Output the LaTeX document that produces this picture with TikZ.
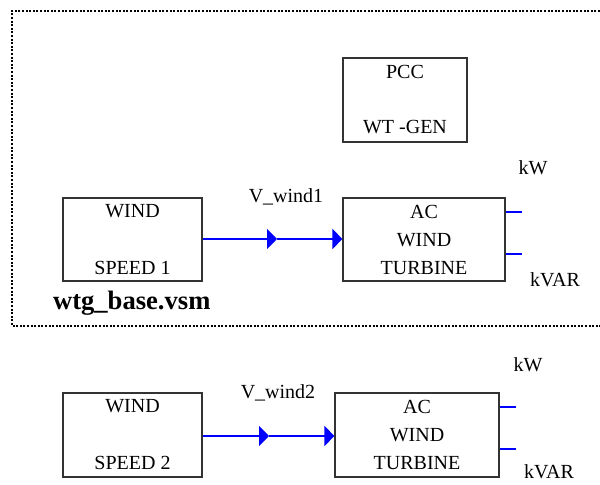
\documentclass[tikz,border=0pt]{standalone}
\usepackage{fontspec}
\setmainfont{Liberation Serif}
\usepackage{tikz}
\usetikzlibrary{positioning, arrows.meta}

\begin{document}
\begin{tikzpicture}[
    x=0.5pt, y=-0.5pt,
    every node/.style={font=\fontsize{10}{14}\selectfont},
    block/.style={draw=black!80, line width=0.6pt, inner sep=0pt, align=center},
    flow/.style={blue, line width=1pt, -{Triangle[length=5pt, width=10pt]}},
    port/.style={blue, line width=1pt},
    frame/.style={line width=1pt, dash pattern=on 1pt off 0.8pt}
]
\useasboundingbox (0,0) rectangle (600,485);

\draw[frame] (600,11) -- (12,11) -- (12,326) -- (600,326);

\node[block, minimum width=62pt, minimum height=42pt] (pcc) at (405,100) {PCC\\[13.5pt]WT -GEN};

\node[block, minimum width=69.5pt, minimum height=41.5pt] (ws1) at (132.5,239.5) {WIND\\[14.5pt]SPEED 1};
\node[block, minimum width=81pt, minimum height=41.5pt] (ac1) at (424,239.5) {AC\\WIND\\TURBINE};
\node (v1) at (286,197) {V\_wind1};
\node (kw1) at (533,168) {kW};
\node (kvar1) at (555,280) {kVAR};
\node[anchor=west, font=\fontsize{13.3}{16}\selectfont\bfseries] (file) at (46,303) {wtg\_base.vsm};

\coordinate (m1) at (277,239);
\draw[flow] (ws1.east |- m1) -- (m1);
\draw[flow] (m1) -- (ac1.west |- m1);
\coordinate (p1) at (522,212);
\coordinate (q1) at (522,254);
\draw[port] (p1 -| ac1.east) -- (p1);
\draw[port] (q1 -| ac1.east) -- (q1);

\node[block, minimum width=69.5pt, minimum height=42pt] (ws2) at (132.5,435) {WIND\\[14.5pt]SPEED 2};
\node[block, minimum width=82pt, minimum height=42pt] (ac2) at (417,435) {AC\\WIND\\TURBINE};
\node (v2) at (278,393) {V\_wind2};
\node (kw2) at (528,365) {kW};
\node (kvar2) at (549,472) {kVAR};

\coordinate (m2) at (269,436);
\draw[flow] (ws2.east |- m2) -- (m2);
\draw[flow] (m2) -- (ac2.west |- m2);
\coordinate (p2) at (516,407);
\coordinate (q2) at (516,449);
\draw[port] (p2 -| ac2.east) -- (p2);
\draw[port] (q2 -| ac2.east) -- (q2);
\end{tikzpicture}
\end{document}
